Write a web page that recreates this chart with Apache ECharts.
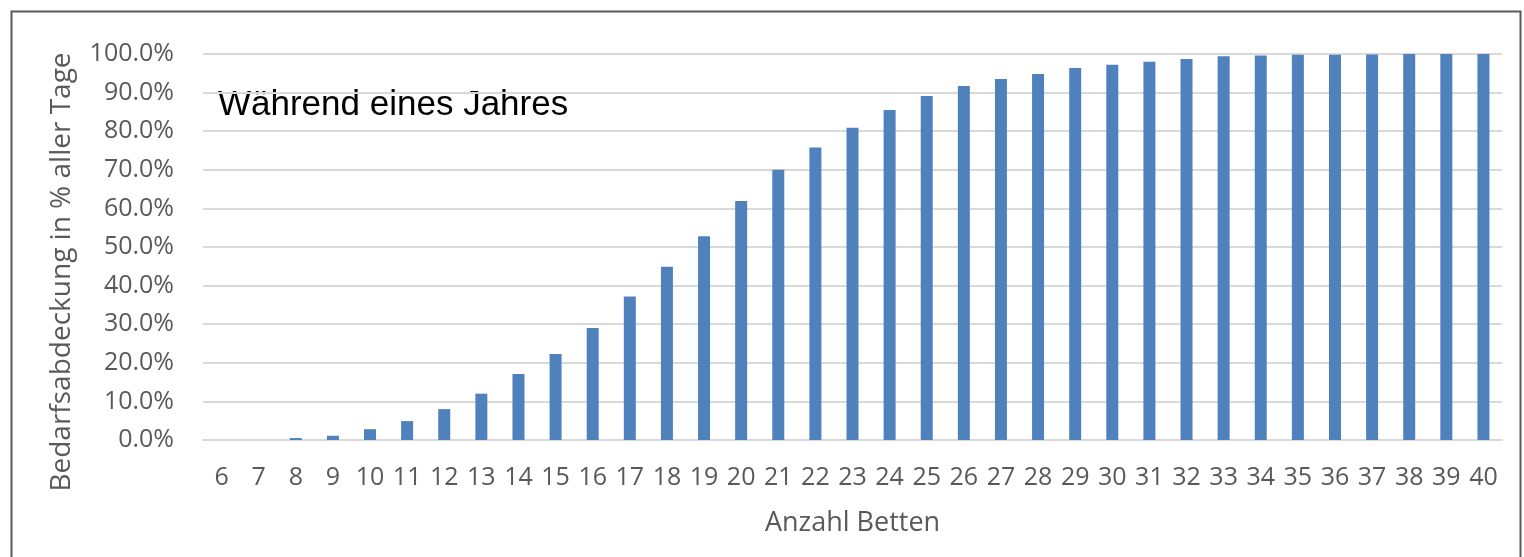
<!DOCTYPE html>
<html>
<head>
<meta charset="utf-8">
<script src="https://cdn.jsdelivr.net/npm/echarts@6/dist/echarts.min.js"></script>
<style>
html,body{margin:0;padding:0;background:#fff;}
#chart{width:1524px;height:557px;}
</style>
</head>
<body>
<div id="chart"></div>
<script>
const categories = ['6','7','8','9','10','11','12','13','14','15','16','17','18','19','20','21','22','23','24','25','26','27','28','29','30','31','32','33','34','35','36','37','38','39','40'];
const coverage = [0.0,0.0,0.5,1.1,2.8,4.9,8.0,12.0,17.1,22.3,29.0,37.2,44.9,52.8,61.9,70.0,75.8,80.9,85.5,89.1,91.7,93.5,94.8,96.4,97.2,98.0,98.7,99.4,99.6,99.8,99.8,99.9,100.0,100.0,100.0];
const yTicks = { min: 0, max: 100, interval: 10 };
const xTitle = 'Anzahl Betten';
const yTitle = 'Bedarfsabdeckung in % aller Tage';
const annotation = 'Während eines Jahres';

const chart = echarts.init(document.getElementById('chart'), null, {renderer:'canvas'});
const labelFont = "'Open Sans', sans-serif";
chart.setOption({
  animation: false,
  backgroundColor: '#ffffff',
  grid: { left: 203, right: 22, top: 54, bottom: 117 },
  xAxis: {
    type: 'category',
    data: categories,
    name: xTitle,
    nameLocation: 'middle',
    nameGap: 70,
    nameTextStyle: { color: '#595959', fontSize: 27, fontFamily: labelFont },
    axisLine: { lineStyle: { color: '#d9d9d9', width: 2 } },
    axisTick: { show: false },
    axisLabel: { color: '#595959', fontSize: 25, fontFamily: labelFont, margin: 25, interval: 0 }
  },
  yAxis: {
    type: 'value',
    min: yTicks.min, max: yTicks.max, interval: yTicks.interval,
    axisLine: { show: false },
    axisTick: { show: false },
    splitLine: { lineStyle: { color: '#d9d9d9', width: 2 } },
    axisLabel: { color: '#595959', fontSize: 25, fontFamily: labelFont, margin: 29,
      formatter: v => v.toFixed(1) + '%' }
  },
  series: [{
    type: 'bar',
    data: coverage,
    barWidth: 12,
    itemStyle: { color: '#4f81bd' }
  }],
  graphic: [
    { type: 'rect', left: 9, top: 9, shape: { width: 1509, height: 560 },
      style: { fill: 'none', stroke: '#595959', lineWidth: 2 }, silent: true, z: -1 },
    { type: 'text', left: 218, top: 88,
      style: { text: annotation, fill: '#000000', font: "35px 'Liberation Sans', Arial, sans-serif" } },
    { type: 'text', x: 62, y: 272, rotation: Math.PI / 2,
      style: { text: yTitle, fill: '#595959', font: "28px 'Open Sans', sans-serif",
        textAlign: 'center', textVerticalAlign: 'middle' } }
  ]
});
</script>
</body>
</html>
